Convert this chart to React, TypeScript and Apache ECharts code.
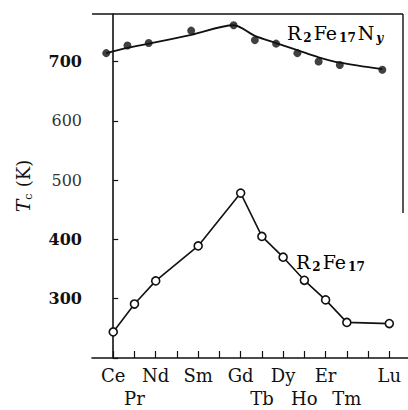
import React, { useEffect, useRef } from "react";
import * as echarts from "echarts";

const categories = ["Ce", "Pr", "Nd", "Pm", "Sm", "Eu", "Gd", "Tb", "Dy", "Ho", "Er", "Tm", "Yb", "Lu"];
const lowerRow = ["Pr", "Tb", "Ho", "Tm"];
const hiddenLabels = ["Pm", "Eu", "Yb"];
const nitrideTc = [714, 727, 731, null, 752, null, 761, 736, 730, 714, 700, 694, null, 686];
const nitrideFit = [714, 723, 730, null, 745, null, 761, 743, 731, 719, 707, 698, null, 687];
const binaryTc = [244, 291, 330, null, 389, null, 478, 405, 370, 331, 298, 260, null, 258];
const yTicks = [300, 400, 500, 600, 700];
const boldTicks = [300, 400, 700];

const toPairs = (vals: (number | null)[]) =>
  vals.map((v, i) => (v == null ? null : [i, v])).filter((p) => p !== null) as number[][];

const SERIF = "DejaVu Serif";

export default function App() {
  const ref = useRef<HTMLDivElement>(null);
  useEffect(() => {
    if (!ref.current) return;
    const chart = echarts.init(ref.current, null, { renderer: "svg" });
    const axisColor = "#111";
    chart.setOption({
      animation: false,
      backgroundColor: "#fff",
      grid: { left: 92, top: 14, right: 0, bottom: 47, containLabel: false },
      xAxis: [
        {
          type: "value",
          min: -1,
          max: 13.88,
          interval: 1,
          splitLine: { show: false },
          axisLine: { show: true, lineStyle: { color: axisColor, width: 1.6 } },
          axisTick: { show: true, inside: true, length: 7, lineStyle: { color: axisColor, width: 1.2 } },
          axisLabel: {
            margin: 6,
            color: "#111",
            fontFamily: SERIF,
            fontSize: 18,
            lineHeight: 23,
            showMinLabel: false,
            showMaxLabel: false,
            formatter: (v: number) => {
              const name = categories[v];
              if (!name || hiddenLabels.includes(name)) return "";
              return lowerRow.includes(name) ? "\n" + name : name;
            },
          },
        },
        {
          type: "value",
          min: -1 + 0.33,
          max: 13.88 + 0.33,
          show: false,
          splitLine: { show: false },
        },
      ],
      yAxis: {
        type: "value",
        min: 200,
        max: 780,
        interval: 100,
        splitLine: { show: false },
        axisLine: { show: true, lineStyle: { color: axisColor, width: 1.6 } },
        axisTick: { show: true, inside: true, length: 5, lineStyle: { color: axisColor, width: 1.2 } },
        axisLabel: {
          margin: 10,
          color: "#111",
          fontFamily: SERIF,
          fontSize: 16,
          showMaxLabel: false,
          formatter: (v: number) => {
            if (!yTicks.includes(v)) return "";
            return boldTicks.includes(v) ? "{b|" + v + "}" : "{n|" + v + "}";
          },
          rich: {
            b: { fontFamily: SERIF, fontSize: 16, fontWeight: "bold", color: "#111" },
            n: { fontFamily: SERIF, fontSize: 16, color: "#333" },
          },
        },
        name: "{t|T}{s|c} {k|(K)}",
        nameLocation: "middle",
        nameGap: 58,
        nameTextStyle: {
          color: "#111",
          rich: {
            t: { fontFamily: SERIF, fontSize: 19, fontStyle: "italic", color: "#111", lineHeight: 22 },
            s: { fontFamily: SERIF, fontSize: 11, color: "#111", verticalAlign: "bottom", lineHeight: 12, padding: [0, 3, 0, 0] },
            k: { fontFamily: SERIF, fontSize: 18, color: "#111", lineHeight: 22 },
          },
        },
      },
      series: [
        {
          name: "R2Fe17",
          type: "line",
          xAxisIndex: 0,
          data: toPairs(binaryTc),
          symbol: "circle",
          symbolSize: 8,
          itemStyle: { color: "#fff", borderColor: "#111", borderWidth: 1.6 },
          lineStyle: { color: "#111", width: 1.6 },
          z: 3,
        },
        {
          name: "R2Fe17Ny fit",
          type: "line",
          xAxisIndex: 1,
          data: toPairs(nitrideFit),
          showSymbol: false,
          smooth: 0.3,
          lineStyle: { color: "#111", width: 1.8 },
          z: 2,
        },
        {
          name: "R2Fe17Ny",
          type: "scatter",
          xAxisIndex: 1,
          data: toPairs(nitrideTc),
          symbol: "circle",
          symbolSize: 8,
          itemStyle: { color: "#111" },
          z: 4,
        },
      ],
      graphic: [
        { type: "line", shape: { x1: 92, y1: 14, x2: 403, y2: 14 }, style: { stroke: "#111", lineWidth: 1.4 } },
        { type: "line", shape: { x1: 403, y1: 14, x2: 403, y2: 213 }, style: { stroke: "#111", lineWidth: 1.4 } },
        {
          type: "text",
          left: 287,
          top: 23,
          style: {
            text: "{m|R}{s|2}{m|Fe}{s|17}{m|N}{y|y}",
            rich: {
              m: { fontFamily: SERIF, fontSize: 19, color: "#111", lineHeight: 22 },
              s: { fontFamily: SERIF, fontSize: 12, fontWeight: "bold", color: "#111", verticalAlign: "bottom", lineHeight: 14, padding: [0, 2, 0, 2] },
              y: { fontFamily: SERIF, fontSize: 12, fontWeight: "bold", fontStyle: "italic", color: "#111", verticalAlign: "bottom", lineHeight: 14, padding: [0, 0, 0, 2] },
            },
          },
        },
        {
          type: "text",
          left: 296,
          top: 252,
          style: {
            text: "{m|R}{s|2}{m|Fe}{s|17}",
            rich: {
              m: { fontFamily: SERIF, fontSize: 19, color: "#111", lineHeight: 22 },
              s: { fontFamily: SERIF, fontSize: 12, fontWeight: "bold", color: "#111", verticalAlign: "bottom", lineHeight: 14, padding: [0, 2, 0, 2] },
            },
          },
        },
      ],
    });
    return () => chart.dispose();
  }, []);
  return <div ref={ref} style={{ position: "absolute", left: 0, top: 0, width: 408, height: 410 }} />;
}
